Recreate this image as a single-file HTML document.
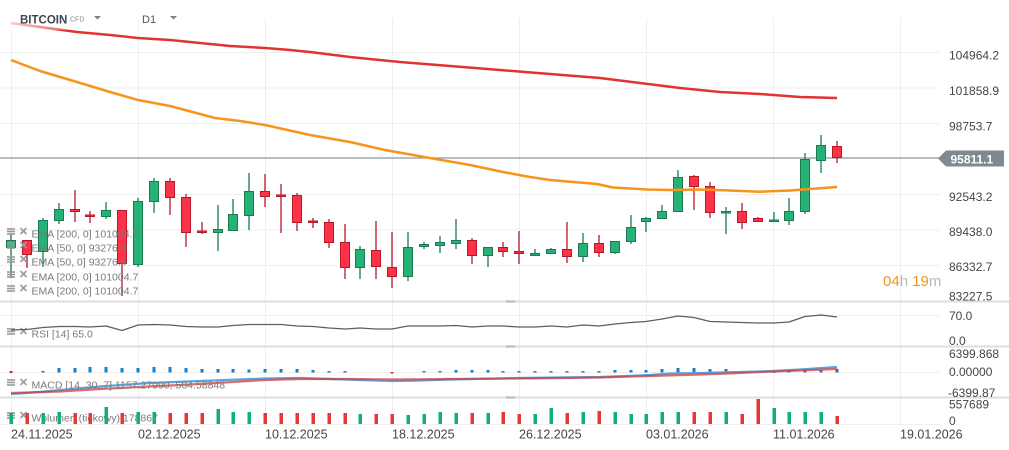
<!DOCTYPE html>
<html><head><meta charset="utf-8"><style>
html,body{margin:0;padding:0;background:#fff;}
svg{display:block;font-family:"Liberation Sans",Arial,sans-serif;}
.g line{stroke:#1b7a50;stroke-width:1.3}
.g rect{fill:#26b276;stroke:#1b7a50;stroke-width:1}
.r line{stroke:#b3182b;stroke-width:1.3}
.r rect{fill:#fd3246;stroke:#b3182b;stroke-width:1}
.ax{font-size:12px;fill:#454545}
.lg{font-size:10.5px;fill:#7a7a7a;white-space:pre}
.ic line{stroke:#9a9a9a;stroke-width:1.6}
</style></head><body>
<svg width="1009" height="450" viewBox="0 0 1009 450" xmlns="http://www.w3.org/2000/svg">
<rect width="1009" height="450" fill="#fff"/>
<!-- vertical grid -->
<g stroke="#efefef" stroke-width="1">
<line x1="11.5" y1="18" x2="11.5" y2="424"/><line x1="138.5" y1="18" x2="138.5" y2="424"/>
<line x1="265.5" y1="18" x2="265.5" y2="424"/><line x1="392.5" y1="18" x2="392.5" y2="424"/>
<line x1="519.5" y1="18" x2="519.5" y2="424"/><line x1="646.5" y1="18" x2="646.5" y2="424"/>
<line x1="773.5" y1="18" x2="773.5" y2="424"/><line x1="900.5" y1="18" x2="900.5" y2="424"/>
</g>
<!-- horizontal grid -->
<g stroke="#efefef" stroke-width="1">
<line x1="0" y1="52.5" x2="940" y2="52.5"/><line x1="0" y1="88" x2="940" y2="88"/>
<line x1="0" y1="123.5" x2="940" y2="123.5"/><line x1="0" y1="194.5" x2="940" y2="194.5"/>
<line x1="0" y1="230" x2="940" y2="230"/><line x1="0" y1="265.5" x2="940" y2="265.5"/>
<line x1="0" y1="315.5" x2="940" y2="315.5"/><line x1="0" y1="372.5" x2="940" y2="372.5"/>
<line x1="0" y1="424.5" x2="940" y2="424.5"/>
</g>
<!-- current price line -->
<line x1="0" y1="158" x2="940" y2="158" stroke="#8a969c" stroke-width="1.3"/>

<!-- candles green -->
<g class="g">
<line x1="11" y1="234" x2="11" y2="278"/><rect x="6.5" y="240.5" width="9" height="7"/>
<line x1="43" y1="218" x2="43" y2="267"/><rect x="38.5" y="220.5" width="9" height="31"/>
<line x1="59" y1="203" x2="59" y2="224"/><rect x="54.5" y="209.5" width="9" height="11"/>
<line x1="106" y1="202" x2="106" y2="219"/><rect x="101.5" y="210.5" width="9" height="6"/>
<line x1="138" y1="198" x2="138" y2="267"/><rect x="133.5" y="201.5" width="9" height="63"/>
<line x1="154" y1="178" x2="154" y2="213"/><rect x="149.5" y="181.5" width="9" height="20"/>
<line x1="218" y1="205" x2="218" y2="251"/><rect x="213.5" y="229.5" width="9" height="3"/>
<line x1="233" y1="199" x2="233" y2="231"/><rect x="228.5" y="214.5" width="9" height="16"/>
<line x1="249" y1="173" x2="249" y2="230"/><rect x="244.5" y="191.5" width="9" height="24"/>
<line x1="360" y1="246" x2="360" y2="279"/><rect x="355.5" y="249.5" width="9" height="18"/>
<line x1="408" y1="232" x2="408" y2="281"/><rect x="403.5" y="247.5" width="9" height="29"/>
<line x1="424" y1="242" x2="424" y2="249"/><rect x="419.5" y="244.5" width="9" height="2"/>
<line x1="440" y1="236" x2="440" y2="253"/><rect x="435.5" y="242.5" width="9" height="3"/>
<line x1="456" y1="219" x2="456" y2="249"/><rect x="451.5" y="240.5" width="9" height="3"/>
<line x1="488" y1="247" x2="488" y2="267"/><rect x="483.5" y="247.5" width="9" height="8"/>
<line x1="535" y1="249" x2="535" y2="256"/><rect x="530.5" y="253.5" width="9" height="2"/>
<line x1="551" y1="248" x2="551" y2="254"/><rect x="546.5" y="249.5" width="9" height="4"/>
<line x1="583" y1="233" x2="583" y2="262"/><rect x="578.5" y="243.5" width="9" height="13"/>
<line x1="615" y1="241" x2="615" y2="254"/><rect x="610.5" y="241.5" width="9" height="11"/>
<line x1="631" y1="215" x2="631" y2="244"/><rect x="626.5" y="227.5" width="9" height="14"/>
<line x1="646" y1="217" x2="646" y2="232"/><rect x="641.5" y="218.5" width="9" height="3"/>
<line x1="662" y1="205" x2="662" y2="219"/><rect x="657.5" y="211.5" width="9" height="7"/>
<line x1="678" y1="170" x2="678" y2="212"/><rect x="673.5" y="177.5" width="9" height="34"/>
<line x1="726" y1="207" x2="726" y2="234"/><rect x="721.5" y="211.5" width="9" height="1.5"/>
<line x1="774" y1="212" x2="774" y2="222"/><rect x="769.5" y="220" width="9" height="1.5"/>
<line x1="789" y1="198" x2="789" y2="225"/><rect x="784.5" y="211.5" width="9" height="9"/>
<line x1="805" y1="153" x2="805" y2="214"/><rect x="800.5" y="159.5" width="9" height="52"/>
<line x1="821" y1="135" x2="821" y2="173"/><rect x="816.5" y="145.5" width="9" height="15"/>
</g>
<!-- candles red -->
<g class="r">
<line x1="27" y1="240" x2="27" y2="268"/><rect x="22.5" y="240.5" width="9" height="14"/>
<line x1="75" y1="190" x2="75" y2="222"/><rect x="70.5" y="209.5" width="9" height="2"/>
<line x1="90" y1="211" x2="90" y2="223"/><rect x="85.5" y="215" width="9" height="1.5"/>
<line x1="122" y1="210" x2="122" y2="296"/><rect x="117.5" y="210.5" width="9" height="53"/>
<line x1="170" y1="178" x2="170" y2="215"/><rect x="165.5" y="181.5" width="9" height="16"/>
<line x1="186" y1="194" x2="186" y2="247"/><rect x="181.5" y="197.5" width="9" height="35"/>
<line x1="202" y1="222" x2="202" y2="234"/><rect x="197.5" y="231" width="9" height="1.5"/>
<line x1="265" y1="174" x2="265" y2="207"/><rect x="260.5" y="191.5" width="9" height="5"/>
<line x1="281" y1="184" x2="281" y2="233"/><rect x="276.5" y="195" width="9" height="1.5"/>
<line x1="297" y1="193" x2="297" y2="231"/><rect x="292.5" y="195.5" width="9" height="27"/>
<line x1="313" y1="218" x2="313" y2="228"/><rect x="308.5" y="221" width="9" height="1.5"/>
<line x1="329" y1="219" x2="329" y2="248"/><rect x="324.5" y="222.5" width="9" height="20"/>
<line x1="345" y1="224" x2="345" y2="279"/><rect x="340.5" y="242.5" width="9" height="25"/>
<line x1="376" y1="221" x2="376" y2="279"/><rect x="371.5" y="250.5" width="9" height="16"/>
<line x1="392" y1="232" x2="392" y2="288"/><rect x="387.5" y="267.5" width="9" height="9"/>
<line x1="472" y1="238" x2="472" y2="264"/><rect x="467.5" y="240.5" width="9" height="15"/>
<line x1="503" y1="242" x2="503" y2="257"/><rect x="498.5" y="247.5" width="9" height="4"/>
<line x1="519" y1="231" x2="519" y2="264"/><rect x="514.5" y="251.5" width="9" height="2"/>
<line x1="567" y1="222" x2="567" y2="263"/><rect x="562.5" y="249.5" width="9" height="7"/>
<line x1="599" y1="235" x2="599" y2="257"/><rect x="594.5" y="243.5" width="9" height="9"/>
<line x1="694" y1="175" x2="694" y2="210"/><rect x="689.5" y="176.5" width="9" height="10"/>
<line x1="710" y1="182" x2="710" y2="218"/><rect x="705.5" y="186.5" width="9" height="26"/>
<line x1="742" y1="203" x2="742" y2="229"/><rect x="737.5" y="211.5" width="9" height="11"/>
<line x1="758" y1="217" x2="758" y2="222"/><rect x="753.5" y="218.5" width="9" height="3"/>
<line x1="837" y1="141" x2="837" y2="163"/><rect x="832.5" y="146.5" width="9" height="11"/>
</g>

<!-- EMA lines -->
<polyline fill="none" stroke="#e03434" stroke-width="2.5" stroke-linejoin="round" points="11,23 40,27 77,32 110,35 138,38 170,40 200,43 230,46 265,48 290,50 310,52 350,57 400,62 450,66 500,70 550,74 600,78 640,83 680,88 720,92 760,94 800,97 837,98"/>
<polyline fill="none" stroke="#f7941d" stroke-width="2.5" stroke-linejoin="round" points="11,60 40,71 77,82 110,92 138,100 170,106 215,118 240,121 265,125 310,135 350,142 385,150 430,158 470,165 503,172 530,177 550,180 597,184 613,187.5 647,189.5 670,190 700,189.5 730,190.5 760,191.7 790,190.5 810,189 837,187"/>
<!-- fade near header -->
<defs><linearGradient id="fd" x1="0" x2="1" y1="0" y2="0"><stop offset="0" stop-color="#fff" stop-opacity="0.85"/><stop offset="1" stop-color="#fff" stop-opacity="0"/></linearGradient></defs>
<rect x="0" y="14" width="90" height="16" fill="url(#fd)"/>

<!-- header -->
<text x="20" y="23.5" style="font-size:11.5px;font-weight:bold;fill:#3c4750">BITCOIN</text>
<text x="70" y="21.7" style="font-size:7px;fill:#8a8a8a">CFD</text>
<polygon points="94,16 101,16 97.5,19.5" fill="#808080"/>
<text x="142" y="23" style="font-size:11px;fill:#555">D1</text>
<polygon points="170,16 177,16 173.5,19.5" fill="#808080"/>

<!-- legends -->
<g class="ic">
<line x1="7" y1="229" x2="15" y2="229"/><line x1="7" y1="231.5" x2="15" y2="231.5"/><line x1="7" y1="234" x2="15" y2="234"/><line x1="20.5" y1="228" x2="26.5" y2="234"/><line x1="26.5" y1="228" x2="20.5" y2="234"/>
<line x1="7" y1="243" x2="15" y2="243"/><line x1="7" y1="245.5" x2="15" y2="245.5"/><line x1="7" y1="248" x2="15" y2="248"/><line x1="20.5" y1="242" x2="26.5" y2="248"/><line x1="26.5" y1="242" x2="20.5" y2="248"/>
<line x1="7" y1="257" x2="15" y2="257"/><line x1="7" y1="259.5" x2="15" y2="259.5"/><line x1="7" y1="262" x2="15" y2="262"/><line x1="20.5" y1="256" x2="26.5" y2="262"/><line x1="26.5" y1="256" x2="20.5" y2="262"/>
<line x1="7" y1="272" x2="15" y2="272"/><line x1="7" y1="274.5" x2="15" y2="274.5"/><line x1="7" y1="277" x2="15" y2="277"/><line x1="20.5" y1="271" x2="26.5" y2="277"/><line x1="26.5" y1="271" x2="20.5" y2="277"/>
<line x1="7" y1="286" x2="15" y2="286"/><line x1="7" y1="288.5" x2="15" y2="288.5"/><line x1="7" y1="291" x2="15" y2="291"/><line x1="20.5" y1="285" x2="26.5" y2="291"/><line x1="26.5" y1="285" x2="20.5" y2="291"/>
<line x1="7" y1="329" x2="15" y2="329"/><line x1="7" y1="331.5" x2="15" y2="331.5"/><line x1="7" y1="334" x2="15" y2="334"/><line x1="20.5" y1="328" x2="26.5" y2="334"/><line x1="26.5" y1="328" x2="20.5" y2="334"/>
<line x1="7" y1="380" x2="15" y2="380"/><line x1="7" y1="382.5" x2="15" y2="382.5"/><line x1="7" y1="385" x2="15" y2="385"/><line x1="20.5" y1="379" x2="26.5" y2="385"/><line x1="26.5" y1="379" x2="20.5" y2="385"/>
<line x1="7" y1="413" x2="15" y2="413"/><line x1="7" y1="415.5" x2="15" y2="415.5"/><line x1="7" y1="418" x2="15" y2="418"/><line x1="20.5" y1="412" x2="26.5" y2="418"/><line x1="26.5" y1="412" x2="20.5" y2="418"/>
</g>
<text class="lg" x="31.5" y="237.5">EMA [200, 0] 101004.7</text>
<text class="lg" x="31.5" y="251.5">EMA [50, 0] 93276.4</text>
<text class="lg" x="31.5" y="265.5">EMA [50, 0] 93276.4</text>
<text class="lg" x="31.5" y="280.5">EMA [200, 0] 101004.7</text>
<text class="lg" x="31.5" y="294.5">EMA [200, 0] 101004.7</text>

<!-- timer -->
<text x="883" y="286" style="font-size:15px"><tspan fill="#f7941d">04</tspan><tspan fill="#b8b8b8">h </tspan><tspan fill="#f7941d">19</tspan><tspan fill="#b8b8b8">m</tspan></text>

<!-- panel dividers -->
<rect x="0" y="300.5" width="1009" height="2" fill="#dedede"/>
<rect x="0" y="345.5" width="1009" height="2" fill="#dedede"/>
<rect x="0" y="396.5" width="1009" height="2" fill="#dedede"/>
<rect x="506" y="300.5" width="9" height="2" fill="#b5b5b5"/>
<rect x="506" y="345.5" width="9" height="2" fill="#b5b5b5"/>
<rect x="506" y="396.5" width="9" height="2" fill="#b5b5b5"/>

<!-- RSI -->
<polyline fill="none" stroke="#5a5f63" stroke-width="1.3" stroke-linejoin="round" points="11,330 27,329.5 43,327.5 59,326.5 75,326.5 90,327 106,326 122,330.5 138,325 154,324.5 170,325 186,326.5 202,327 218,327 233,325.5 249,324.5 265,324.5 281,324.5 297,326 313,326.5 329,328 345,329 360,328 376,329 392,329 408,326 424,326 440,326 456,325.5 472,327 488,326 503,326 519,327 535,327 551,326 567,327 583,325 599,326 615,324 631,322.5 646,321.5 662,319 678,316 694,317.5 710,321.5 726,322 742,322.5 758,323 774,323 789,322 805,316.5 821,315 837,317"/>
<text class="lg" x="31.5" y="337.5">RSI [14] 65.0</text>

<!-- MACD histogram -->
<g fill="#1a7cc4">
<rect x="41.5" y="371" width="3" height="1.5"/><rect x="57.5" y="368" width="3" height="4.5"/><rect x="73.5" y="368" width="3" height="4.5"/><rect x="88.5" y="367" width="3" height="5.5"/><rect x="104.5" y="367" width="3" height="5.5"/><rect x="120.5" y="368" width="3" height="4.5"/><rect x="136.5" y="368" width="3" height="4.5"/><rect x="152.5" y="367" width="3" height="5.5"/><rect x="168.5" y="367" width="3" height="5.5"/><rect x="184.5" y="368" width="3" height="4.5"/><rect x="200.5" y="369" width="3" height="3.5"/><rect x="216.5" y="369" width="3" height="3.5"/><rect x="231.5" y="369" width="3" height="3.5"/><rect x="247.5" y="369.5" width="3" height="3"/><rect x="263.5" y="369" width="3" height="3.5"/><rect x="279.5" y="369" width="3" height="3.5"/><rect x="295.5" y="369" width="3" height="3.5"/><rect x="311.5" y="370" width="3" height="2.5"/><rect x="327.5" y="371" width="3" height="1.5"/><rect x="343.5" y="371" width="3" height="1.5"/>
<rect x="422.5" y="371" width="3" height="1.5"/><rect x="438.5" y="371" width="3" height="1.5"/><rect x="454.5" y="370" width="3" height="2.5"/><rect x="470.5" y="370" width="3" height="2.5"/><rect x="486.5" y="370" width="3" height="2.5"/><rect x="501.5" y="371" width="3" height="1.5"/><rect x="517.5" y="371" width="3" height="1.5"/><rect x="533.5" y="371" width="3" height="1.5"/><rect x="549.5" y="371" width="3" height="1.5"/><rect x="565.5" y="371" width="3" height="1.5"/><rect x="581.5" y="371" width="3" height="1.5"/><rect x="597.5" y="371" width="3" height="1.5"/><rect x="613.5" y="370" width="3" height="2.5"/><rect x="629.5" y="370" width="3" height="2.5"/><rect x="644.5" y="370" width="3" height="2.5"/><rect x="660.5" y="369" width="3" height="3.5"/><rect x="676.5" y="368" width="3" height="4.5"/><rect x="692.5" y="368" width="3" height="4.5"/><rect x="708.5" y="369" width="3" height="3.5"/><rect x="724.5" y="369" width="3" height="3.5"/><rect x="740.5" y="371" width="3" height="1.5"/><rect x="756.5" y="371.5" width="3" height="1"/><rect x="772.5" y="371.8" width="3" height="1"/><rect x="787.5" y="371" width="3" height="1.5"/><rect x="803.5" y="370" width="3" height="2.5"/><rect x="819.5" y="370" width="3" height="2.5"/><rect x="835.5" y="369" width="3" height="3.5"/>
</g>
<rect x="9.5" y="371" width="3" height="2" fill="#c0392b"/>
<rect x="390.5" y="372" width="3" height="1.5" fill="#c0392b"/>
<!-- MACD lines -->
<polyline fill="none" stroke="#5aa5e0" stroke-width="2.2" stroke-linejoin="round" points="11,394 40,392 60,390 100,386.5 150,383 200,381 265,378.5 300,378 330,379 360,380 392,381 420,380.5 450,379.5 519,378 600,377 650,375 670,373.5 700,373 740,372 773,371 800,369.5 837,367"/>
<polyline fill="none" stroke="#d43c3c" stroke-opacity="0.75" stroke-width="2.2" stroke-linejoin="round" points="11,393 60,391.5 100,389 150,386.5 200,384 265,380 300,379 350,379 400,379.5 450,379 519,378.5 600,377.5 650,376 700,374.5 740,373 773,371.5 800,370.5 837,369"/>
<text class="lg" x="31.5" y="388.5">MACD [14, 30, 7] 1157.27990, 504.58848</text>

<!-- Volume -->
<text class="lg" x="31.5" y="421.5">Wolumen (tickowy) 178867</text>
<g fill="#10b26c">
<rect x="9.5" y="413" width="3.5" height="11"/><rect x="41.5" y="413" width="3.5" height="11"/><rect x="57.5" y="412" width="3.5" height="12"/><rect x="104.5" y="407" width="3.5" height="17"/><rect x="136.5" y="412" width="3.5" height="12"/><rect x="152.5" y="412" width="3.5" height="12"/><rect x="216.5" y="409" width="3.5" height="15"/><rect x="231.5" y="412" width="3.5" height="12"/><rect x="247.5" y="412" width="3.5" height="12"/><rect x="358.5" y="414" width="3.5" height="10"/><rect x="406.5" y="415" width="3.5" height="9"/><rect x="422.5" y="414" width="3.5" height="10"/><rect x="438.5" y="412" width="3.5" height="12"/><rect x="454.5" y="413" width="3.5" height="11"/><rect x="486.5" y="413" width="3.5" height="11"/><rect x="533.5" y="414" width="3.5" height="10"/><rect x="549.5" y="408" width="3.5" height="16"/><rect x="581.5" y="412" width="3.5" height="12"/><rect x="613.5" y="412" width="3.5" height="12"/><rect x="629.5" y="414" width="3.5" height="10"/><rect x="644.5" y="414" width="3.5" height="10"/><rect x="660.5" y="412" width="3.5" height="12"/><rect x="676.5" y="412" width="3.5" height="12"/><rect x="724.5" y="412" width="3.5" height="12"/><rect x="772.5" y="408" width="3.5" height="16"/><rect x="787.5" y="412" width="3.5" height="12"/><rect x="803.5" y="412" width="3.5" height="12"/><rect x="819.5" y="412" width="3.5" height="12"/>
</g>
<g fill="#e53935">
<rect x="25.5" y="413" width="3.5" height="11"/><rect x="73.5" y="413" width="3.5" height="11"/><rect x="88.5" y="413" width="3.5" height="11"/><rect x="120.5" y="413" width="3.5" height="11"/><rect x="168.5" y="413" width="3.5" height="11"/><rect x="184.5" y="413" width="3.5" height="11"/><rect x="200.5" y="413" width="3.5" height="11"/><rect x="263.5" y="413" width="3.5" height="11"/><rect x="279.5" y="413" width="3.5" height="11"/><rect x="295.5" y="413" width="3.5" height="11"/><rect x="311.5" y="413" width="3.5" height="11"/><rect x="327.5" y="413" width="3.5" height="11"/><rect x="343.5" y="413" width="3.5" height="11"/><rect x="374.5" y="414" width="3.5" height="10"/><rect x="390.5" y="414" width="3.5" height="10"/><rect x="470.5" y="413" width="3.5" height="11"/><rect x="501.5" y="412" width="3.5" height="12"/><rect x="517.5" y="414" width="3.5" height="10"/><rect x="565.5" y="413" width="3.5" height="11"/><rect x="597.5" y="411" width="3.5" height="13"/><rect x="692.5" y="412" width="3.5" height="12"/><rect x="708.5" y="412" width="3.5" height="12"/><rect x="740.5" y="414" width="3.5" height="10"/><rect x="756.5" y="399" width="3.5" height="25"/><rect x="835.5" y="416" width="3.5" height="8"/>
</g>

<!-- right axis -->
<text class="ax" x="949" y="59.5">104964.2</text>
<text class="ax" x="949" y="95">101858.9</text>
<text class="ax" x="949" y="130.5">98753.7</text>
<text class="ax" x="949" y="201">92543.2</text>
<text class="ax" x="949" y="236">89438.0</text>
<text class="ax" x="949" y="271">86332.7</text>
<text class="ax" x="949" y="300.5">83227.5</text>
<polygon points="938,158.5 946,150.5 1004,150.5 1004,166.5 946,166.5" fill="#7f8a8f"/>
<text x="950.5" y="163.3" style="font-size:12px;font-weight:bold;fill:#fff">95811.1</text>
<text class="ax" x="949" y="320">70.0</text>
<text class="ax" x="949" y="345">0.0</text>
<text class="ax" x="949" y="358">6399.868</text>
<text class="ax" x="949" y="376">0.00000</text>
<text class="ax" x="948" y="397">-6399.87</text>
<text class="ax" x="949" y="408.5">557689</text>
<text class="ax" x="949" y="425">0</text>

<!-- date axis -->
<g style="font-size:12.5px;fill:#454545">
<text x="11" y="438.5">24.11.2025</text>
<text x="138" y="438.5">02.12.2025</text>
<text x="265" y="438.5">10.12.2025</text>
<text x="392" y="438.5">18.12.2025</text>
<text x="519" y="438.5">26.12.2025</text>
<text x="646" y="438.5">03.01.2026</text>
<text x="773" y="438.5">11.01.2026</text>
<text x="900" y="438.5">19.01.2026</text>
</g>
</svg>
</body></html>
